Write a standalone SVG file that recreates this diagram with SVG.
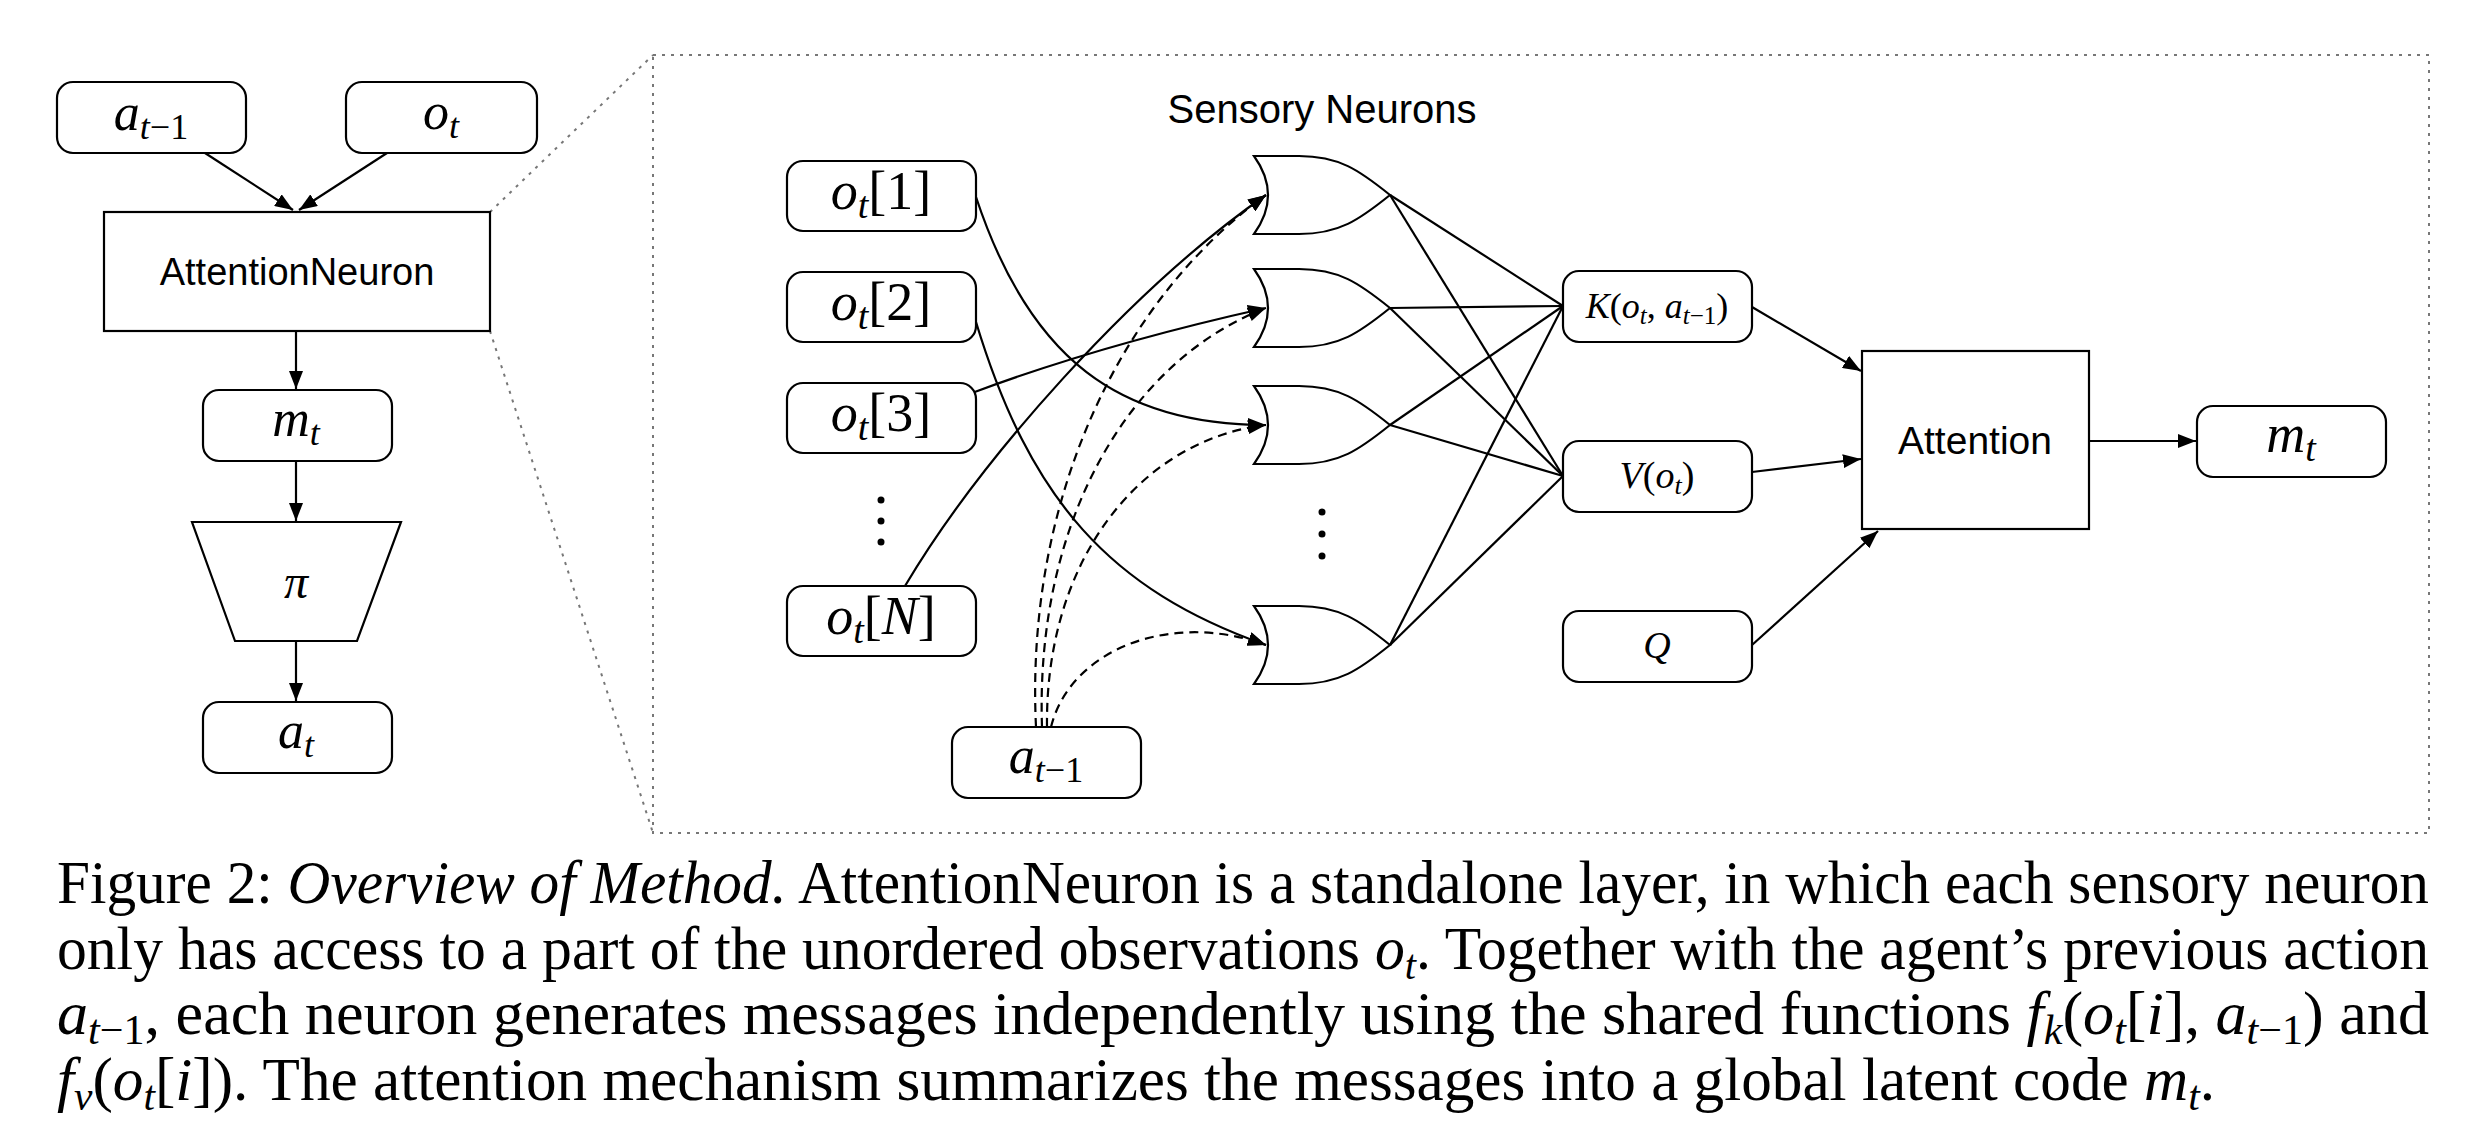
<svg xmlns="http://www.w3.org/2000/svg" width="2468" height="1142" viewBox="0 0 2468 1142">
<style>
.box{fill:#fff;stroke:#000;stroke-width:2.2}
.ln{fill:none;stroke:#000;stroke-width:2.2}
.dash{fill:none;stroke:#000;stroke-width:2.2;stroke-dasharray:9,6}
.dot{fill:none;stroke:#777;stroke-width:2;stroke-dasharray:3,6}
.sans{font-family:"Liberation Sans",Arial,sans-serif;fill:#000}
.m{font-family:"Liberation Serif","Times New Roman",serif;fill:#000}
.i{font-style:italic}
.cap{font-family:"Liberation Serif","Times New Roman",serif;font-size:62px;fill:#000}
</style>
<defs>
<marker id="ah" viewBox="0 0 18 14" refX="18" refY="7" markerWidth="18" markerHeight="14" markerUnits="userSpaceOnUse" orient="auto"><path d="M0,0 L18,7 L0,14 z" fill="#000"/></marker>
<path id="gate" d="M0,0 L45,0 C85,0 105,14 136,39 C105,64 85,78 45,78 L0,78 Q28,39 0,0 Z" fill="#fff" stroke="#000" stroke-width="2.2"/>
</defs>

<!-- zoom lines and dotted frame -->
<g id="frame">
<line class="dot" x1="490" y1="212" x2="653" y2="55"/>
<line class="dot" x1="490" y1="331" x2="653" y2="833"/>
<rect class="dot" x="653" y="55" width="1776" height="778"/>
</g>

<!-- left column -->
<g id="connectors-left">
<line class="ln" x1="205" y1="153" x2="293" y2="210" marker-end="url(#ah)"/>
<line class="ln" x1="387" y1="153" x2="299" y2="210" marker-end="url(#ah)"/>
<line class="ln" x1="296" y1="331" x2="296" y2="389" marker-end="url(#ah)"/>
<line class="ln" x1="296" y1="461" x2="296" y2="521" marker-end="url(#ah)"/>
<line class="ln" x1="296" y1="641" x2="296" y2="701" marker-end="url(#ah)"/>
</g>
<g id="n-a-prev-left"><rect class="box" x="57" y="82" width="189" height="71" rx="16"/>
<text class="m" x="151" y="130" text-anchor="middle" font-size="52"><tspan class="i">a</tspan><tspan font-size="36" dy="9"><tspan class="i">t</tspan>−1</tspan></text></g>
<g id="n-o-left"><rect class="box" x="346" y="82" width="191" height="71" rx="16"/>
<text class="m" x="441" y="129" text-anchor="middle" font-size="52"><tspan class="i">o</tspan><tspan class="i" font-size="36" dy="9">t</tspan></text></g>
<g id="n-attneuron"><rect class="box" x="104" y="212" width="386" height="119"/>
<text class="sans" x="297" y="285" text-anchor="middle" font-size="38">AttentionNeuron</text></g>
<g id="n-m-left"><rect class="box" x="203" y="390" width="189" height="71" rx="16"/>
<text class="m" x="296" y="436" text-anchor="middle" font-size="52"><tspan class="i">m</tspan><tspan class="i" font-size="36" dy="9">t</tspan></text></g>
<g id="n-pi"><path class="box" d="M192,522 L401,522 L357,641 L235,641 Z"/>
<text class="m i" x="296" y="598" text-anchor="middle" font-size="48">π</text></g>
<g id="n-a-left"><rect class="box" x="203" y="702" width="189" height="71" rx="16"/>
<text class="m" x="296" y="748" text-anchor="middle" font-size="52"><tspan class="i">a</tspan><tspan class="i" font-size="36" dy="9">t</tspan></text></g>

<!-- right panel -->
<text class="sans" x="1322" y="123" text-anchor="middle" font-size="40">Sensory Neurons</text>

<g id="connectors-right">
<path class="ln" d="M976,197 C1030,360 1120,425 1266,425" marker-end="url(#ah)"/>
<path class="ln" d="M976,322 C1030,500 1110,590 1266,645" marker-end="url(#ah)"/>
<path class="ln" d="M972,393 Q1100,345 1266,308" marker-end="url(#ah)"/>
<path class="ln" d="M905,586 C980,460 1130,290 1266,195" marker-end="url(#ah)"/>
<path class="dash" d="M1036,727 C1025,500 1120,300 1266,195" marker-end="url(#ah)"/>
<path class="dash" d="M1042,727 C1035,520 1130,360 1266,308" marker-end="url(#ah)"/>
<path class="dash" d="M1047,727 C1045,560 1140,440 1266,425" marker-end="url(#ah)"/>
<path class="dash" d="M1051,727 C1070,650 1170,610 1266,645" marker-end="url(#ah)"/>
<line class="ln" x1="1390" y1="195" x2="1563" y2="306"/>
<line class="ln" x1="1390" y1="195" x2="1563" y2="476"/>
<line class="ln" x1="1390" y1="308" x2="1563" y2="306"/>
<line class="ln" x1="1390" y1="308" x2="1563" y2="476"/>
<line class="ln" x1="1390" y1="425" x2="1563" y2="306"/>
<line class="ln" x1="1390" y1="425" x2="1563" y2="476"/>
<line class="ln" x1="1390" y1="645" x2="1563" y2="306"/>
<line class="ln" x1="1390" y1="645" x2="1563" y2="476"/>
<line class="ln" x1="1752" y1="307" x2="1861" y2="371" marker-end="url(#ah)"/>
<line class="ln" x1="1752" y1="472" x2="1861" y2="459" marker-end="url(#ah)"/>
<line class="ln" x1="1752" y1="645" x2="1878" y2="531" marker-end="url(#ah)"/>
<line class="ln" x1="2089" y1="441" x2="2196" y2="441" marker-end="url(#ah)"/>
</g>

<g id="n-o1"><rect class="box" x="787" y="161" width="189" height="70" rx="16"/>
<text class="m" x="881" y="209" text-anchor="middle" font-size="54"><tspan class="i">o</tspan><tspan class="i" font-size="38" dy="9">t</tspan><tspan dy="-9">[1]</tspan></text></g>
<g id="n-o2"><rect class="box" x="787" y="272" width="189" height="70" rx="16"/>
<text class="m" x="881" y="320" text-anchor="middle" font-size="54"><tspan class="i">o</tspan><tspan class="i" font-size="38" dy="9">t</tspan><tspan dy="-9">[2]</tspan></text></g>
<g id="n-o3"><rect class="box" x="787" y="383" width="189" height="70" rx="16"/>
<text class="m" x="881" y="431" text-anchor="middle" font-size="54"><tspan class="i">o</tspan><tspan class="i" font-size="38" dy="9">t</tspan><tspan dy="-9">[3]</tspan></text></g>
<g id="n-odots"><circle cx="881" cy="500" r="3.5"/><circle cx="881" cy="521" r="3.5"/><circle cx="881" cy="542" r="3.5"/></g>
<g id="n-oN"><rect class="box" x="787" y="586" width="189" height="70" rx="16"/>
<text class="m" x="881" y="634" text-anchor="middle" font-size="54"><tspan class="i">o</tspan><tspan class="i" font-size="38" dy="9">t</tspan><tspan dy="-9">[</tspan><tspan class="i">N</tspan>]</text></g>
<g id="n-a-prev-right"><rect class="box" x="952" y="727" width="189" height="71" rx="16"/>
<text class="m" x="1046" y="773" text-anchor="middle" font-size="52"><tspan class="i">a</tspan><tspan font-size="36" dy="9"><tspan class="i">t</tspan>−1</tspan></text></g>

<g id="n-gate1"><use href="#gate" x="1254" y="156"/></g>
<g id="n-gate2"><use href="#gate" x="1254" y="269"/></g>
<g id="n-gate3"><use href="#gate" x="1254" y="386"/></g>
<g id="n-gate4"><use href="#gate" x="1254" y="606"/></g>
<g id="n-gatedots"><circle cx="1322" cy="512" r="3.5"/><circle cx="1322" cy="534" r="3.5"/><circle cx="1322" cy="556" r="3.5"/></g>

<g id="n-K"><rect class="box" x="1563" y="271" width="189" height="71" rx="16"/>
<text class="m" x="1657" y="318" text-anchor="middle" font-size="36"><tspan class="i">K</tspan>(<tspan class="i">o</tspan><tspan class="i" font-size="25" dy="6">t</tspan><tspan dy="-6">, </tspan><tspan class="i">a</tspan><tspan font-size="25" dy="6"><tspan class="i">t</tspan>−1</tspan><tspan dy="-6">)</tspan></text></g>
<g id="n-V"><rect class="box" x="1563" y="441" width="189" height="71" rx="16"/>
<text class="m" x="1657" y="488" text-anchor="middle" font-size="38"><tspan class="i">V</tspan>(<tspan class="i">o</tspan><tspan class="i" font-size="26" dy="6">t</tspan><tspan dy="-6">)</tspan></text></g>
<g id="n-Q"><rect class="box" x="1563" y="611" width="189" height="71" rx="16"/>
<text class="m i" x="1657" y="658" text-anchor="middle" font-size="38">Q</text></g>
<g id="n-attention"><rect class="box" x="1862" y="351" width="227" height="178"/>
<text class="sans" x="1975" y="454" text-anchor="middle" font-size="39">Attention</text></g>
<g id="n-m-right"><rect class="box" x="2197" y="406" width="189" height="71" rx="16"/>
<text class="m" x="2291" y="452" text-anchor="middle" font-size="54"><tspan class="i">m</tspan><tspan class="i" font-size="38" dy="9">t</tspan></text></g>

<!-- caption -->
<g id="caption">
<text class="cap" x="57" y="903" textLength="2372" lengthAdjust="spacingAndGlyphs">Figure 2: <tspan font-style="italic">Overview of Method.</tspan> AttentionNeuron is a standalone layer, in which each sensory neuron</text>
<text class="cap" x="57" y="969" textLength="2372" lengthAdjust="spacingAndGlyphs">only has access to a part of the unordered observations <tspan font-style="italic">o</tspan><tspan font-style="italic" font-size="42" dy="10">t</tspan><tspan dy="-10">. Together with the agent’s previous action</tspan></text>
<text class="cap" x="57" y="1034" textLength="2372" lengthAdjust="spacingAndGlyphs"><tspan font-style="italic">a</tspan><tspan font-size="42" dy="10"><tspan font-style="italic">t</tspan>−1</tspan><tspan dy="-10">, each neuron generates messages independently using the shared functions </tspan><tspan font-style="italic">f</tspan><tspan font-style="italic" font-size="42" dy="10">k</tspan><tspan dy="-10">(</tspan><tspan font-style="italic">o</tspan><tspan font-style="italic" font-size="42" dy="10">t</tspan><tspan dy="-10">[</tspan><tspan font-style="italic">i</tspan>], <tspan font-style="italic">a</tspan><tspan font-size="42" dy="10"><tspan font-style="italic">t</tspan>−1</tspan><tspan dy="-10">) and</tspan></text>
<text class="cap" x="57" y="1100" textLength="2158" lengthAdjust="spacingAndGlyphs"><tspan font-style="italic">f</tspan><tspan font-style="italic" font-size="42" dy="10">v</tspan><tspan dy="-10">(</tspan><tspan font-style="italic">o</tspan><tspan font-style="italic" font-size="42" dy="10">t</tspan><tspan dy="-10">[</tspan><tspan font-style="italic">i</tspan>]). The attention mechanism summarizes the messages into a global latent code <tspan font-style="italic">m</tspan><tspan font-style="italic" font-size="42" dy="10">t</tspan><tspan dy="-10">.</tspan></text>
</g>
</svg>
